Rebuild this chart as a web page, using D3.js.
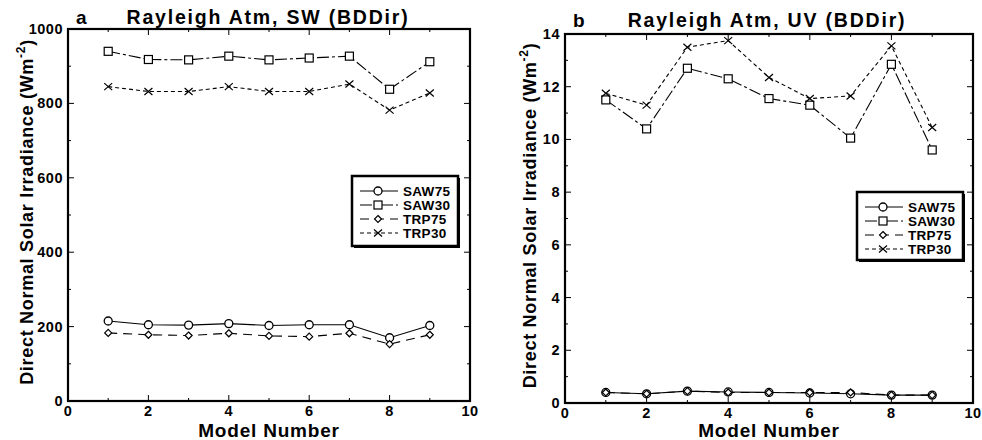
<!DOCTYPE html>
<html>
<head>
<meta charset="utf-8">
<script src="https://cdn.jsdelivr.net/npm/d3@7"></script>
<style>
body { margin: 0; background: #fff; }
svg text { font-family: "Liberation Sans", Arial, sans-serif; font-weight: bold; fill: #000; }
</style>
</head>
<body>
<svg id="chart" width="982" height="440"></svg>
<script>
var models = [1, 2, 3, 4, 5, 6, 7, 8, 9];
var seriesNames = ["SAW75", "SAW30", "TRP75", "TRP30"];

// panel a: SW
var swSAW75 = [215, 205, 204, 208, 203, 205, 205, 170, 203];
var swSAW30 = [940, 918, 917, 927, 917, 922, 927, 838, 912];
var swTRP75 = [183, 178, 176, 182, 175, 173, 182, 153, 178];
var swTRP30 = [845, 832, 832, 845, 832, 832, 852, 782, 828];

// panel b: UV
var uvSAW75 = [0.40, 0.35, 0.45, 0.42, 0.40, 0.38, 0.35, 0.30, 0.30];
var uvSAW30 = [11.5, 10.4, 12.7, 12.3, 11.55, 11.3, 10.05, 12.85, 9.6];
var uvTRP75 = [0.40, 0.35, 0.45, 0.40, 0.40, 0.40, 0.40, 0.30, 0.30];
var uvTRP30 = [11.75, 11.3, 13.5, 13.75, 12.35, 11.55, 11.65, 13.55, 10.45];

var styles = {
	SAW75: { dash: null, marker: "circle" },
	SAW30: { dash: "12,3,3,3", marker: "square" },
	TRP75: { dash: "9,6", marker: "diamond" },
	TRP30: { dash: "4,3", marker: "cross" }
};

var svg = d3.select("#chart");

function marker(g, type, x, y) {
	if (type === "circle") {
		g.append("circle").attr("cx", x).attr("cy", y).attr("r", 4)
			.attr("fill", "#fff").attr("stroke", "#000").attr("stroke-width", 1.3);
	} else if (type === "square") {
		g.append("rect").attr("x", x - 4).attr("y", y - 4).attr("width", 8).attr("height", 8)
			.attr("fill", "#fff").attr("stroke", "#000").attr("stroke-width", 1.2);
	} else if (type === "diamond") {
		g.append("path").attr("d", "M" + x + "," + (y - 3.5) + "L" + (x + 3.5) + "," + y + "L" + x + "," + (y + 3.5) + "L" + (x - 3.5) + "," + y + "Z")
			.attr("fill", "#fff").attr("stroke", "#000").attr("stroke-width", 1.2);
	} else {
		g.append("path").attr("d", "M" + (x - 4) + "," + (y - 3.5) + "L" + (x + 4) + "," + (y + 3.5) + "M" + (x - 4) + "," + (y + 3.5) + "L" + (x + 4) + "," + (y - 3.5))
			.attr("fill", "none").attr("stroke", "#000").attr("stroke-width", 1.2);
	}
}

function drawPanel(p) {
	var x = d3.scaleLinear().domain([0, 10]).range([p.left, p.right]);
	var y = d3.scaleLinear().domain([0, p.ymax]).range([p.bottom, p.top]);
	var g = svg.append("g");

	// frame
	g.append("rect").attr("x", p.left).attr("y", p.top)
		.attr("width", p.right - p.left).attr("height", p.bottom - p.top)
		.attr("fill", "none").attr("stroke", "#000").attr("stroke-width", 2.2);

	// ticks, inward on all sides
	var xMinor = d3.range(0, 11, 1), yMinor = d3.range(0, p.ymax + 1e-9, p.ystep / 2);
	xMinor.forEach(function(v) {
		var len = v % 2 === 0 ? 6 : 3;
		g.append("line").attr("x1", x(v)).attr("x2", x(v)).attr("y1", p.bottom).attr("y2", p.bottom - len).attr("stroke", "#000");
		g.append("line").attr("x1", x(v)).attr("x2", x(v)).attr("y1", p.top).attr("y2", p.top + len).attr("stroke", "#000");
	});
	yMinor.forEach(function(v, i) {
		var len = i % 2 === 0 ? 6 : 3;
		g.append("line").attr("x1", p.left).attr("x2", p.left + len).attr("y1", y(v)).attr("y2", y(v)).attr("stroke", "#000");
		g.append("line").attr("x1", p.right).attr("x2", p.right - len).attr("y1", y(v)).attr("y2", y(v)).attr("stroke", "#000");
	});

	// tick labels
	d3.range(0, 11, 2).forEach(function(v) {
		g.append("text").attr("x", x(v)).attr("y", p.bottom + 15).attr("text-anchor", "middle")
			.attr("font-size", 14.5).style("letter-spacing", "0.5px").text(v);
	});
	d3.range(0, p.ymax + 1e-9, p.ystep).forEach(function(v) {
		g.append("text").attr("x", p.left - 5).attr("y", y(v) + 5).attr("text-anchor", "end")
			.attr("font-size", 14.5).style("letter-spacing", "0.5px").text(v);
	});

	// titles
	g.append("text").attr("x", p.left + 8).attr("y", p.titleY).attr("font-size", 19).text(p.letter);
	g.append("text").attr("x", p.titleX).attr("y", p.titleY).attr("text-anchor", "middle")
		.attr("font-size", 19.5).style("letter-spacing", "1.8px").text(p.title);
	g.append("text").attr("x", (p.left + p.right) / 2).attr("y", 437).attr("text-anchor", "middle")
		.attr("font-size", 19).style("letter-spacing", "0.8px").text("Model Number");
	var yl = g.append("text").attr("transform", "translate(" + p.ylabelX + "," + ((p.top + p.bottom) / 2 - 3) + ") rotate(-90)")
		.attr("text-anchor", "middle").attr("font-size", 18).style("letter-spacing", "0.7px");
	yl.append("tspan").text("Direct Normal Solar Irradiance (Wm");
	yl.append("tspan").attr("dy", -8).attr("font-size", 12).text("-2");
	yl.append("tspan").attr("dy", 8).text(")");

	// series
	var line = d3.line().x(function(d, i) { return x(models[i]); }).y(function(d) { return y(d); });
	seriesNames.forEach(function(name) {
		var vals = p.data[name];
		g.append("path").attr("d", line(vals)).attr("fill", "none").attr("stroke", "#000")
			.attr("stroke-width", 1.1).attr("stroke-dasharray", styles[name].dash);
		vals.forEach(function(v, i) { marker(g, styles[name].marker, x(models[i]), y(v)); });
	});

	// legend
	var lg = g.append("g");
	lg.append("rect").attr("x", p.legX + 2).attr("y", p.legY + 2).attr("width", p.legW).attr("height", p.legH)
		.attr("fill", "#000");
	lg.append("rect").attr("x", p.legX).attr("y", p.legY).attr("width", p.legW).attr("height", p.legH)
		.attr("fill", "#fff").attr("stroke", "#000").attr("stroke-width", 2.5);
	seriesNames.forEach(function(name, i) {
		var ry = p.legY + 15 + i * 14;
		lg.append("line").attr("x1", p.legX + 8).attr("x2", p.legX + 46).attr("y1", ry).attr("y2", ry)
			.attr("stroke", "#000").attr("stroke-dasharray", styles[name].dash);
		marker(lg, styles[name].marker, p.legX + 26, ry);
		lg.append("text").attr("x", p.legX + 51).attr("y", ry + 5).attr("font-size", 13.5)
			.style("letter-spacing", "0.3px").text(name);
	});
}

drawPanel({
	left: 68, right: 470, top: 29, bottom: 401, ymax: 1000, ystep: 200,
	letter: "a", title: "Rayleigh Atm, SW (BDDir)", titleX: 268, titleY: 24, ylabelX: 33,
	data: { SAW75: swSAW75, SAW30: swSAW30, TRP75: swTRP75, TRP30: swTRP30 },
	legX: 352, legY: 176, legW: 106, legH: 70
});
drawPanel({
	left: 565, right: 973, top: 34, bottom: 403, ymax: 14, ystep: 2,
	letter: "b", title: "Rayleigh Atm, UV (BDDir)", titleX: 767, titleY: 27, ylabelX: 536,
	data: { SAW75: uvSAW75, SAW30: uvSAW30, TRP75: uvTRP75, TRP30: uvTRP30 },
	legX: 857, legY: 192, legW: 106, legH: 68
});
</script>
</body>
</html>
